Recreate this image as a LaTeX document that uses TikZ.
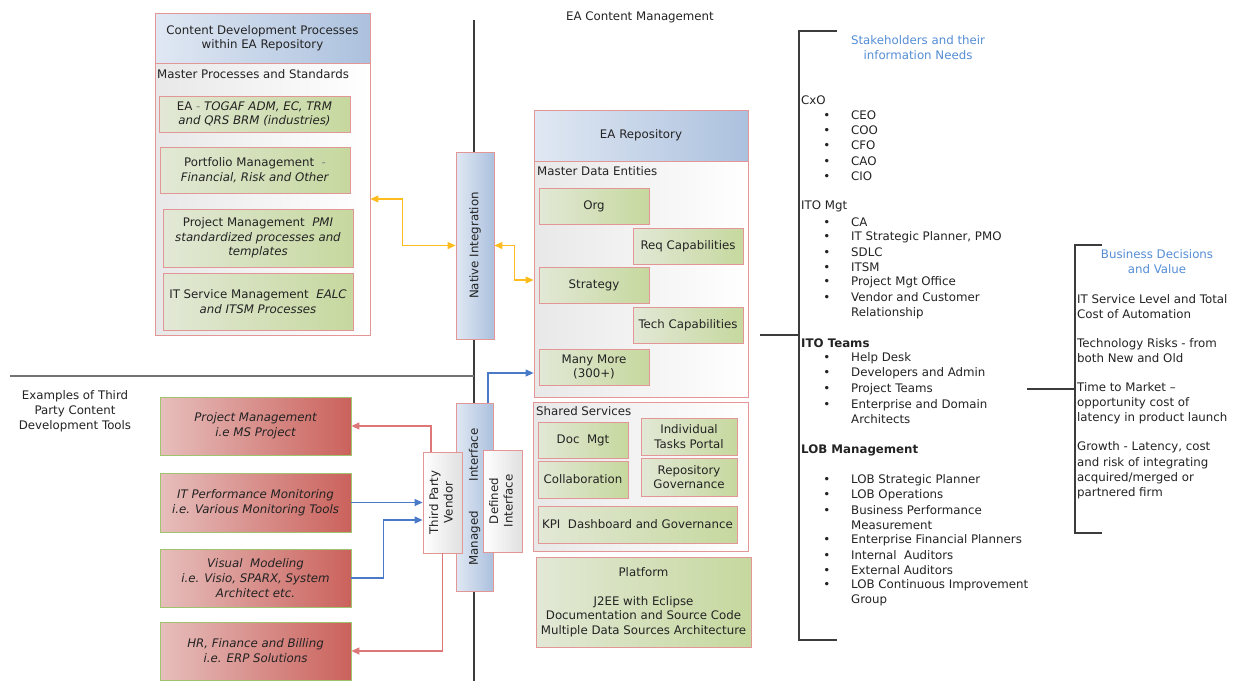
\documentclass[tikz,border=0pt]{standalone}
\usepackage{fontspec}
\setmainfont{DejaVu Sans}
\usetikzlibrary{arrows.meta, calc}

\definecolor{colBorder}{RGB}{226, 150, 150}
\definecolor{colHdrL}{RGB}{224, 232, 243}
\definecolor{colHdrR}{RGB}{172, 193, 222}
\definecolor{colGrnL}{RGB}{226, 232, 214}
\definecolor{colGrnR}{RGB}{198, 216, 158}
\definecolor{colRedL}{RGB}{230, 190, 188}
\definecolor{colRedR}{RGB}{203, 98, 92}
\definecolor{colGrnBorder}{RGB}{160, 195, 110}
\definecolor{colYellow}{RGB}{255, 188, 30}
\definecolor{colBlue}{RGB}{72, 122, 200}
\definecolor{colRed}{RGB}{222, 120, 120}
\definecolor{colHead}{RGB}{85, 142, 213}
\definecolor{colLine}{RGB}{60, 60, 60}
\definecolor{colText}{RGB}{35, 35, 35}

\newcommand{\bul}{\makebox[0pt][r]{\textbullet\hspace{21pt}}}
\newcommand{\vtext}[1]{\rotatebox{90}{\begin{tabular}{@{}c@{}}#1\end{tabular}}}

\begin{document}
\begin{tikzpicture}[x=1pt, y=-1pt,
    every node/.style={font=\fontsize{11.8}{14.5}\selectfont, text=colText},
    >={Triangle[length=8pt,width=7pt]},
    wh/.style 2 args={minimum width=#1, minimum height=#2},
    hdr/.style={draw=colBorder, line width=0.8pt, left color=colHdrL, right color=colHdrR, align=center, inner sep=0pt},
    holder/.style={draw=colBorder, line width=0.8pt, left color=black!9, right color=white, inner sep=0pt},
    grn/.style={draw=colBorder, line width=0.8pt, left color=colGrnL, right color=colGrnR, align=center, inner sep=1pt},
    redbox/.style={draw=colGrnBorder, line width=0.8pt, left color=colRedL, right color=colRedR, align=center, inner sep=1pt, font=\fontsize{11.8}{15}\selectfont\itshape},
    vbar/.style={draw=colBorder, line width=0.8pt, left color=colHdrL, right color=colHdrR, inner sep=0pt},
    vwhite/.style={draw=colBorder, line width=0.8pt, left color=white, right color=black!12, inner sep=0pt},
    lbl/.style={anchor=west, inner sep=0pt},
    item/.style={anchor=west, inner sep=0pt, align=left, font=\fontsize{11.8}{15.2}\selectfont},
    bluehead/.style={text=colHead, align=center, inner sep=0pt, font=\fontsize{11.8}{15}\selectfont},
    bracket/.style={draw=colLine, line width=1.2pt},
    yarr/.style={draw=colYellow, line width=1.1pt, <->},
    barr/.style={draw=colBlue, line width=1.1pt, ->},
    rarr/.style={draw=colRed, line width=1.1pt, ->}
]
    \path[use as bounding box, fill=white] (0,0) rectangle (1244,681);

    % --- Dividers ---
    \coordinate (vtop) at (474,20);
    \coordinate (vbot) at (474,681);
    \coordinate (hleft) at (10,376);
    \draw[colLine, line width=1.2pt] (vtop) -- (vbot);
    \draw[black!55, line width=1.6pt] (hleft) -- (hleft -| vtop);

    \node (title) at (640,17) {EA Content Management};

    % --- Content Development Processes ---
    \node[hdr, wh={215}{50}] (cdp) at (262.5,38) {Content Development Processes\\within EA Repository};
    \node[holder, wh={215}{272}] (mps) at (262.5,199) {};
    \node[lbl] (mpslbl) at (157,74) {Master Processes and Standards};
    \node[grn, wh={191}{36}] (ea) at (254.5,114) {EA {\color{gray}-} \textit{TOGAF ADM, EC, TRM}\\\textit{and QRS BRM (industries)}};
    \node[grn, wh={190}{46}] (pfm) at (255,170) {Portfolio Management \ {\color{gray}-}\\\textit{Financial, Risk and Other}};
    \node[grn, wh={190}{58}] (pjm) at (258,238) {Project Management \ \textit{PMI}\\\textit{standardized processes and}\\\textit{templates}};
    \node[grn, wh={190}{57}] (itsm) at (258,301.5) {IT Service Management \ \textit{EALC}\\\textit{and ITSM Processes}};

    \node[vbar, wh={38}{187}] (ni) at (475,245.5) {\rotatebox{90}{Native Integration}};

    % --- EA Repository ---
    \node[hdr, wh={214}{51}] (repo) at (641,135.5) {EA Repository};
    \node[holder, wh={214}{236}] (mde) at (641,279) {};
    \node[lbl] (mdelbl) at (537,171) {Master Data Entities};
    \node[grn, wh={110}{36}] (org) at (594,206) {Org};
    \node[grn, wh={110}{36}] (req) at (688,246) {Req Capabilities};
    \node[grn, wh={110}{36}] (strat) at (594,285) {Strategy};
    \node[grn, wh={110}{36}] (tech) at (688,325) {Tech Capabilities};
    \node[grn, wh={110}{36}] (mm) at (594,367) {Many More\\(300+)};

    % --- Shared Services ---
    \node[holder, wh={215}{149}] (ss) at (640.5,476.5) {};
    \node[lbl] (sslbl) at (536,411) {Shared Services};
    \node[grn, wh={90}{36}] (doc) at (583,440) {Doc \ Mgt};
    \node[grn, wh={96}{37}] (itp) at (689,436.5) {Individual\\Tasks Portal};
    \node[grn, wh={90}{37}] (col) at (583,479.5) {Collaboration};
    \node[grn, wh={96}{38}] (rgov) at (689,477) {Repository\\Governance};
    \node[grn, wh={199}{37}] (kpi) at (637.5,524.5) {KPI \ Dashboard and Governance};

    \node[grn, wh={215}{90}] (plat) at (643.5,602) {Platform\\[14.5pt]J2EE with Eclipse\\Documentation and Source Code\\Multiple Data Sources Architecture};

    % --- Third Party Tools ---
    \node[align=center, font=\fontsize{11.8}{15}\selectfont] (ex) at (75,411) {Examples of Third\\Party Content\\Development Tools};
    \node[redbox, wh={191}{58}] (pmt) at (255.5,426) {Project Management\\i.e MS Project};
    \node[redbox, wh={191}{59}] (itpm) at (255.5,502.5) {IT Performance Monitoring\\i.e. Various Monitoring Tools};
    \node[redbox, wh={191}{58}] (vm) at (255.5,578) {Visual \ Modeling\\i.e. Visio, SPARX, System\\Architect etc.};
    \node[redbox, wh={191}{58}] (hr) at (255.5,651) {HR, Finance and Billing\\i.e. ERP Solutions};

    \node[vbar, wh={37}{188}] (mi) at (474.5,497) {\rotatebox{90}{Managed\hspace*{30pt}Interface}};
    \node[vwhite, wh={39}{101}] (tpv) at (442.5,502.5) {\vtext{Third Party\\Vendor}};
    \node[vwhite, wh={39}{102}] (di) at (502.5,501) {\vtext{Defined\\Interface}};

    % --- Arrows ---
    \draw[yarr] (mps.east) -- ++(32,0) |- (ni.west);
    \coordinate (sin) at (mde.west |- strat.west);
    \draw[yarr] (ni.east) -- ++(20,0) |- ([yshift=5pt]sin);
    \coordinate (mmin) at (mde.west |- mm.west);
    \draw[barr] ([xshift=13.5pt]mi.north) |- ([yshift=-6pt]mmin);
    \draw[rarr] ([xshift=-11.5pt]tpv.north) |- (pmt.east);
    \draw[rarr] (tpv.south) |- (hr.east);
    \draw[barr] (itpm.east) -- (itpm.east -| tpv.west);
    \draw[barr] (vm.east) -- ++(32,0) |- ([yshift=-17.5pt]tpv.west);

    % --- Stakeholders ---
    \coordinate (sk1) at (837,31);
    \coordinate (sk2) at (799,31);
    \coordinate (sk3) at (799,640);
    \coordinate (sk4) at (837,640);
    \draw[bracket] (sk1) -- (sk2) -- (sk3) -- (sk4);
    \coordinate (repoout) at (760,335);
    \draw[bracket] (repoout) -- (repoout -| sk2);
    \node[bluehead] (skh) at (918,47.5) {Stakeholders and their\\information Needs};

    \node[lbl] (cxo) at (801,100) {CxO};
    \foreach \y/\t [count=\i] in {115/CEO, 130/COO, 145/CFO, 161/CAO, 176/CIO}
        \node[item] (cxo\i) at (851,\y) {\bul\t};

    \node[lbl] (itomgt) at (801,206) {ITO Mgt};
    \foreach \y/\t [count=\i] in {222/CA, 237/{IT Strategic Planner, PMO}, 252/SDLC, 267/ITSM,
        282/Project Mgt Office, 305.5/{Vendor and Customer\\Relationship}}
        \node[item] (itomgt\i) at (851,\y) {\bul\t};

    \node[lbl, font=\fontsize{11.8}{14.5}\selectfont\bfseries] (itot) at (801,343) {ITO Teams};
    \foreach \y/\t [count=\i] in {358/Help Desk, 373/Developers and Admin, 389/Project Teams,
        411.5/{Enterprise and Domain\\Architects}}
        \node[item] (itot\i) at (851,\y) {\bul\t};

    \node[lbl, font=\fontsize{11.8}{14.5}\selectfont\bfseries] (lob) at (801,450) {LOB Management};
    \foreach \y/\t [count=\i] in {480/LOB Strategic Planner, 495/LOB Operations,
        517.5/{Business Performance\\Measurement}, 540/Enterprise Financial Planners,
        555/Internal \ Auditors, 570/External Auditors, 592.5/{LOB Continuous Improvement\\Group}}
        \node[item] (lob\i) at (851,\y) {\bul\t};

    % --- Business Decisions ---
    \coordinate (bd1) at (1102,245);
    \coordinate (bd2) at (1075,245);
    \coordinate (bd3) at (1075,533);
    \coordinate (bd4) at (1102,533);
    \draw[bracket] (bd1) -- (bd2) -- (bd3) -- (bd4);
    \coordinate (skout) at (1027,389);
    \draw[bracket] (skout) -- (skout -| bd2);
    \node[bluehead] (bdh) at (1157,261.5) {Business Decisions\\and Value};

    \node[item] (bdv1) at (1077,306.5) {IT Service Level and Total\\Cost of Automation};
    \node[item] (bdv2) at (1077,350.5) {Technology Risks - from\\both New and Old};
    \node[item] (bdv3) at (1077,403) {Time to Market –\\opportunity cost of\\latency in product launch};
    \node[item] (bdv4) at (1077,470.5) {Growth - Latency, cost\\and risk of integrating\\acquired/merged or\\partnered firm};

\end{tikzpicture}
\end{document}
